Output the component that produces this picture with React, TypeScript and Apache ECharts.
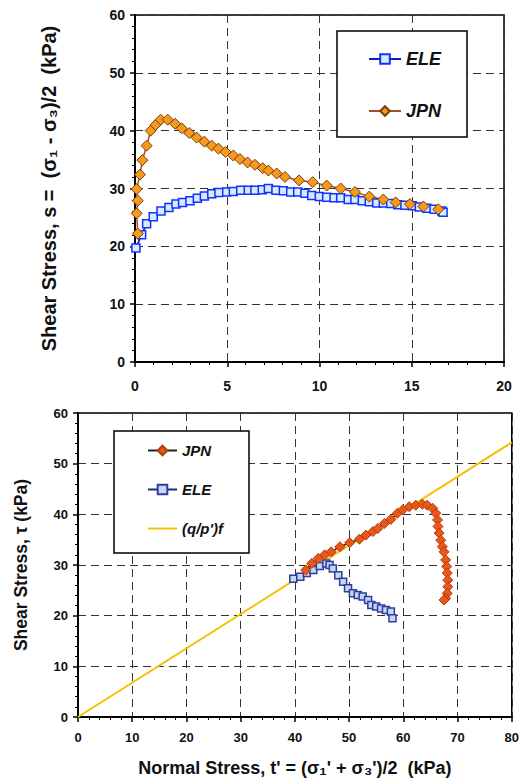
import React, { useEffect, useRef } from "react";
import * as echarts from "echarts";

// ---- Top chart: shear stress vs strain ----
const jpnStrain = [0.15, 0.09, 0.15, 0.09, 0.27, 0.4, 0.63, 0.85, 1.12, 1.39, 1.77, 2.17, 2.53, 2.94, 3.34, 3.76, 4.16, 4.52, 4.91, 5.33, 5.69, 6.1, 6.5, 6.92, 7.23, 7.68, 8.13, 8.89, 9.63, 10.39, 11.15, 11.92, 12.7, 13.46, 14.13, 14.9, 15.63, 16.44];
const jpnShear = [22.2, 25.7, 27.9, 29.9, 32.4, 34.9, 37.4, 40.0, 41.0, 41.9, 41.9, 41.2, 40.4, 39.6, 38.8, 38.1, 37.4, 36.9, 36.3, 35.7, 35.1, 34.5, 34.1, 33.5, 33.1, 32.6, 32.0, 31.4, 31.1, 30.5, 30.0, 29.4, 28.6, 28.1, 27.6, 27.3, 26.9, 26.4];
const eleStrain = [0.05, 0.36, 0.63, 0.99, 1.41, 1.84, 2.22, 2.58, 2.98, 3.38, 3.76, 4.16, 4.55, 4.97, 5.33, 5.73, 6.14, 6.5, 6.9, 7.23, 7.64, 8.04, 8.44, 8.82, 9.21, 9.58, 9.99, 10.39, 10.79, 11.15, 11.56, 11.92, 12.32, 12.7, 13.1, 13.46, 13.86, 14.24, 14.63, 15.03, 15.41, 15.81, 16.21, 16.62, 16.7];
const eleShear = [19.7, 22.0, 23.9, 25.1, 26.1, 26.7, 27.3, 27.6, 27.9, 28.3, 28.7, 29.1, 29.3, 29.4, 29.5, 29.7, 29.7, 29.7, 29.8, 30.0, 29.7, 29.6, 29.4, 29.4, 29.2, 28.8, 28.6, 28.5, 28.4, 28.4, 28.1, 28.1, 27.9, 27.7, 27.5, 27.5, 27.4, 27.2, 27.1, 27.0, 26.8, 26.6, 26.4, 26.1, 25.9];

// ---- Bottom chart: stress paths ----
const jpnNormal = [42.0, 43.1, 44.3, 45.5, 46.7, 48.3, 50.1, 51.9, 53.1, 54.4, 55.3, 56.5, 57.7, 58.9, 59.9, 61.1, 62.3, 63.5, 64.4, 65.4, 66.0, 66.3, 66.4, 66.6, 66.9, 67.2, 67.5, 67.8, 68.0, 68.1, 68.2, 68.2, 68.1, 67.8, 67.5];
const jpnTau = [29.0, 30.3, 31.3, 32.0, 32.6, 33.6, 34.4, 35.1, 35.9, 36.6, 37.2, 38.2, 39.0, 40.2, 40.9, 41.5, 41.8, 42.0, 41.8, 41.2, 40.2, 38.9, 37.6, 36.3, 34.9, 33.6, 32.6, 31.0, 29.7, 28.4, 27.0, 25.7, 24.4, 23.4, 23.1];
const eleNormal = [39.7, 41.0, 42.2, 43.4, 44.6, 45.8, 46.4, 47.0, 48.0, 48.9, 49.8, 50.7, 51.6, 52.5, 53.5, 54.1, 55.0, 55.9, 56.8, 57.7, 58.0];
const eleTau = [27.3, 27.7, 28.4, 29.0, 29.8, 30.3, 30.0, 29.3, 28.0, 26.7, 25.4, 24.4, 24.1, 23.8, 23.1, 22.1, 21.8, 21.4, 21.1, 20.8, 19.5];
const envNormal = [0, 80];
const envTau = [0, 54.2];

const zip = (xs: number[], ys: number[]) => xs.map((x, i) => [x, ys[i]]);

const FONT = "'Liberation Sans', Arial, sans-serif";
const gridLine = { show: true, lineStyle: { color: "#333", type: [8, 5] as any, width: 1 } };

export default function App() {
  const ref = useRef<HTMLDivElement>(null);
  useEffect(() => {
    const chart = echarts.init(ref.current!, null, { renderer: "svg" });
    const axisLabelTop = { color: "#111", fontWeight: "bold" as const, fontSize: 14, fontFamily: FONT };
    const axisLabelBot = { color: "#111", fontWeight: "bold" as const, fontSize: 13, fontFamily: FONT };
    const axisLine = { show: true, onZero: false, lineStyle: { color: "#000", width: 2 } };
    const tick = { show: true, length: 5, lineStyle: { color: "#000", width: 1.5 } };
    const minor = { show: true, splitNumber: 5, length: 3, lineStyle: { color: "#000" } };
    chart.setOption({
      animation: false,
      backgroundColor: "#fff",
      grid: [
        { left: 135, right: 18, top: 15, height: 347, show: true, borderColor: "#000", borderWidth: 1.5, backgroundColor: "transparent" },
        { left: 78, right: 7, top: 413, height: 304, show: true, borderColor: "#000", borderWidth: 1.5, backgroundColor: "transparent" },
      ],
      xAxis: [
        {
          gridIndex: 0, type: "value", min: 0, max: 20, interval: 5,
          axisLine, axisTick: tick, minorTick: minor,
          splitLine: gridLine, axisLabel: { ...axisLabelTop, margin: 17 },
        },
        {
          gridIndex: 1, type: "value", min: 0, max: 80, interval: 10,
          axisLine, axisTick: tick, minorTick: minor,
          splitLine: gridLine, axisLabel: { ...axisLabelBot, margin: 14 },
          name: "Normal Stress, t' = (σ₁' + σ₃')/2  (kPa)", nameLocation: "middle", nameGap: 42,
          nameTextStyle: { color: "#111", fontWeight: "bold", fontSize: 18, fontFamily: FONT },
        },
      ],
      yAxis: [
        {
          gridIndex: 0, type: "value", min: 0, max: 60, interval: 10,
          axisLine, axisTick: tick, minorTick: minor,
          splitLine: gridLine, axisLabel: { ...axisLabelTop, margin: 10 },
          name: "Shear Stress, s =  (σ₁ - σ₃)/2  (kPa)", nameLocation: "middle", nameGap: 76,
          nameTextStyle: { color: "#111", fontWeight: "bold", fontSize: 20, fontFamily: FONT },
        },
        {
          gridIndex: 1, type: "value", min: 0, max: 60, interval: 10,
          axisLine, axisTick: tick, minorTick: minor,
          splitLine: gridLine, axisLabel: { ...axisLabelBot, margin: 10 },
          name: "Shear Stress, τ (kPa)", nameLocation: "middle", nameGap: 48,
          nameTextStyle: { color: "#111", fontWeight: "bold", fontSize: 17.5, fontFamily: FONT },
        },
      ],
      graphic: [
        { type: "rect", shape: { x: 337, y: 31, width: 130, height: 106 }, style: { fill: "#fff", stroke: "#000", lineWidth: 1.5 }, z: 10 },
        { type: "rect", shape: { x: 114, y: 431, width: 135, height: 122 }, style: { fill: "#fff", stroke: "#000", lineWidth: 1.5 }, z: 10 },
      ],
      legend: [
        {
          data: ["ELE", "JPN"], orient: "vertical", left: 363, top: 45, itemGap: 34, itemWidth: 32, itemHeight: 12, z: 20,
          textStyle: { color: "#111", fontWeight: "bold", fontStyle: "italic", fontSize: 18, fontFamily: FONT },
        },
        {
          data: ["JPN2", "ELE2", { name: "(q/p')f", icon: "path://M0,0 L30,0 L30,2 L0,2 Z" }],
          orient: "vertical", left: 142, top: 438, itemGap: 24, itemWidth: 29, itemHeight: 12, z: 20,
          formatter: (n: string) => n.replace("2", ""),
          textStyle: { color: "#111", fontWeight: "bold", fontStyle: "italic", fontSize: 15, fontFamily: FONT },
        },
      ],
      series: [
        {
          name: "ELE", type: "line", xAxisIndex: 0, yAxisIndex: 0, data: zip(eleStrain, eleShear),
          symbol: "rect", symbolSize: 8,
          itemStyle: { color: "#d3ecff", borderColor: "#1530ff", borderWidth: 1.5 },
          lineStyle: { color: "#0e1fa8", width: 1.8 },
        },
        {
          name: "JPN", type: "line", xAxisIndex: 0, yAxisIndex: 0, data: zip(jpnStrain, jpnShear),
          symbol: "diamond", symbolSize: 11,
          itemStyle: { color: "#f59a1f", borderColor: "#7a3d08", borderWidth: 1 },
          lineStyle: { color: "#a0502a", width: 1.5 },
        },
        {
          name: "(q/p')f", type: "line", xAxisIndex: 1, yAxisIndex: 1, data: zip(envNormal, envTau),
          symbol: "none", lineStyle: { color: "#f5c000", width: 2 }, itemStyle: { color: "#f5c000" },
        },
        {
          name: "ELE2", type: "line", xAxisIndex: 1, yAxisIndex: 1, data: zip(eleNormal, eleTau),
          symbol: "rect", symbolSize: 7,
          itemStyle: { color: "#c8d6f4", borderColor: "#2d3f9e", borderWidth: 1.5 },
          lineStyle: { color: "#1c2a80", width: 1.5 },
        },
        {
          name: "JPN2", type: "line", xAxisIndex: 1, yAxisIndex: 1, data: zip(jpnNormal, jpnTau),
          symbol: "diamond", symbolSize: 10,
          itemStyle: { color: "#e9581a", borderColor: "#b23c0a", borderWidth: 1 },
          lineStyle: { color: "#222", width: 1.5 },
        },
      ],
    });
    return () => chart.dispose();
  }, []);
  return <div ref={ref} style={{ position: "fixed", left: 0, top: 0, width: 522, height: 780 }} />;
}
